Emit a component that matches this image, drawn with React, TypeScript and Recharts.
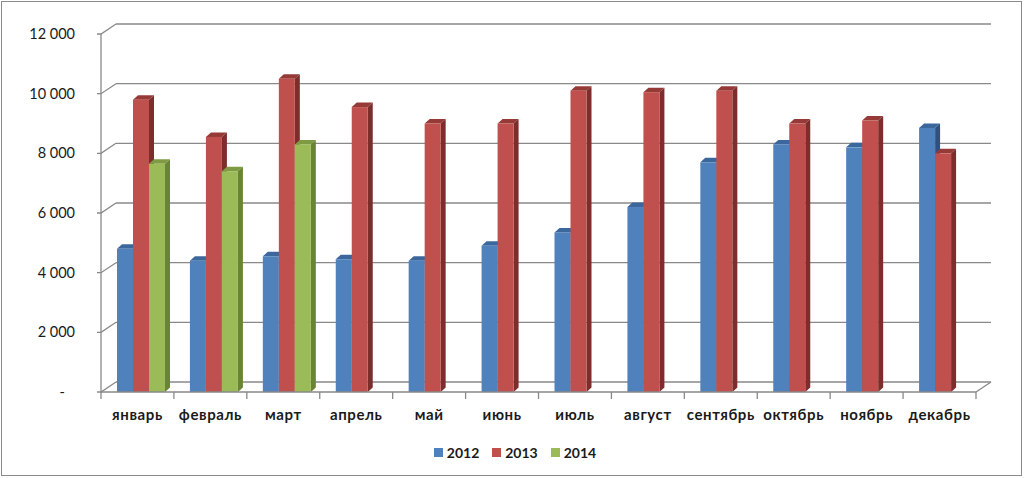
import { BarChart, Bar, XAxis, YAxis, CartesianGrid, Legend } from 'recharts';

// months and values per year
const months = ['январь', 'февраль', 'март', 'апрель', 'май', 'июнь', 'июль', 'август', 'сентябрь', 'октябрь', 'ноябрь', 'декабрь'];
const years = ['2012', '2013', '2014'];
const values2012 = [4800, 4400, 4550, 4450, 4400, 4900, 5350, 6200, 7700, 8300, 8200, 8850];
const values2013 = [9800, 8550, 10500, 9550, 9000, 9000, 10100, 10050, 10100, 9000, 9100, 8000];
const values2014 = [7650, 7400, 8300, null, null, null, null, null, null, null, null, null];
const yTicks = [0, 2000, 4000, 6000, 8000, 10000, 12000];

const W = 1024;
const H = 478;
const MARGIN = { top: 34, right: 48, left: 0, bottom: 10 };
const Y_AXIS_W = 101;
const X_AXIS_H = 52;
const LEGEND_H = 24;
const PLOT_LEFT = MARGIN.left + Y_AXIS_W;
const PLOT_RIGHT = W - MARGIN.right;
const PLOT_BOTTOM = H - MARGIN.bottom - LEGEND_H - X_AXIS_H;
const BAND = (PLOT_RIGHT - PLOT_LEFT) / months.length;

// depth of the back wall and of the bars
const WALL_DX = 15;
const WALL_DY = -10;
const BAR_DX = 5;
const BAR_DY = -4.5;
const BAR_SHIFT = 4;

const GRID = '#898989';
const FONT = "Lato, 'Noto Sans', 'DejaVu Sans', sans-serif";

const COLORS = {
  '2012': { front: '#4F81BD', top: '#3C679C', side: '#2F5180' },
  '2013': { front: '#C0504D', top: '#963A38', side: '#7D2E2C' },
  '2014': { front: '#9BBB59', top: '#7E9B44', side: '#6A8436' },
};

const data = months.map((m, i) => ({
  month: m,
  '2012': values2012[i],
  '2013': values2013[i],
  '2014': values2014[i],
}));

function formatTick(v: number): string {
  if (v === 0) return '-';
  return v.toLocaleString('ru-RU').replace(/\s/g, ' ');
}

function makeShape(year: string) {
  const c = COLORS[year as keyof typeof COLORS];
  return (props: any) => {
    const { x, y, width, height } = props;
    if (!height || height <= 0) return <g />;
    const x0 = x + BAR_SHIFT;
    const x1 = x0 + width;
    const y1 = y + height;
    return (
      <g>
        <polygon
          points={`${x0},${y} ${x0 + BAR_DX},${y + BAR_DY} ${x1 + BAR_DX},${y + BAR_DY} ${x1},${y}`}
          fill={c.top}
        />
        <polygon
          points={`${x1},${y} ${x1 + BAR_DX},${y + BAR_DY} ${x1 + BAR_DX},${y1 + BAR_DY} ${x1},${y1}`}
          fill={c.side}
        />
        <rect x={x0} y={y} width={width} height={height} fill={c.front} />
      </g>
    );
  };
}

// back wall gridlines plus the diagonals from the front axis
function WallLine(props: any) {
  const { x1, y1, x2 } = props;
  const isFloor = Math.abs(y1 - PLOT_BOTTOM) < 1;
  return (
    <g>
      <polyline
        points={`${x1 - 4},${y1} ${x1},${y1} ${x1 + WALL_DX},${y1 + WALL_DY}`}
        fill="none"
        stroke={GRID}
        strokeWidth={1.3}
      />
      <line x1={x1 + WALL_DX} y1={y1 + WALL_DY} x2={x2 + WALL_DX} y2={y1 + WALL_DY} stroke={GRID} strokeWidth={1.3} />
      {isFloor && (
        <line x1={x2} y1={y1} x2={x2 + WALL_DX} y2={y1 + WALL_DY} stroke={GRID} strokeWidth={1.3} />
      )}
    </g>
  );
}

function YTick(props: any) {
  const { x, y, payload } = props;
  const zero = payload.value === 0;
  return (
    <text
      x={zero ? x - 10 : x}
      y={y}
      dy={5}
      textAnchor="end"
      fontFamily={FONT}
      fontSize={14.5}
      fill="#1a1a1a"
    >
      {formatTick(payload.value)}
    </text>
  );
}

function XTick(props: any) {
  const { x, payload, index } = props;
  const left = x - BAND / 2;
  const right = x + BAND / 2;
  return (
    <g>
      <line x1={left} y1={PLOT_BOTTOM} x2={left} y2={PLOT_BOTTOM + 7} stroke={GRID} strokeWidth={1.3} />
      {index === months.length - 1 && (
        <line x1={right} y1={PLOT_BOTTOM} x2={right} y2={PLOT_BOTTOM + 7} stroke={GRID} strokeWidth={1.3} />
      )}
      <text
        x={x}
        y={PLOT_BOTTOM + 28}
        textAnchor="middle"
        fontFamily={FONT}
        fontWeight="bold"
        fontSize={15}
        letterSpacing={0.6}
        fill="#1a1a1a"
      >
        {payload.value}
      </text>
    </g>
  );
}

function LegendContent() {
  return (
    <div style={{ display: 'flex', justifyContent: 'center', gap: 13, paddingLeft: 6, fontFamily: FONT }}>
      {years.map((yr) => (
        <div key={yr} style={{ display: 'flex', alignItems: 'center', gap: 4 }}>
          <span style={{ width: 9, height: 9, background: COLORS[yr as keyof typeof COLORS].front, display: 'inline-block' }} />
          <span style={{ fontSize: 14, fontWeight: 'bold', color: '#1a1a1a' }}>{yr}</span>
        </div>
      ))}
    </div>
  );
}

export default function App() {
  return (
    <div style={{ position: 'absolute', left: 0, top: 0, width: W, height: H, background: '#fff' }}>
      <BarChart
        width={W}
        height={H}
        data={data}
        margin={MARGIN}
        barGap={0}
        barSize={16}
      >
        <CartesianGrid vertical={false} horizontal={(p: any) => <WallLine key={p.key} {...p} />} />
        <XAxis
          dataKey="month"
          height={X_AXIS_H}
          axisLine={{ stroke: GRID, strokeWidth: 1.3 }}
          tickLine={false}
          tick={<XTick />}
          interval={0}
        />
        <YAxis
          width={Y_AXIS_W}
          domain={[0, 12000]}
          ticks={yTicks}
          tickSize={0}
          tickMargin={26}
          axisLine={{ stroke: GRID, strokeWidth: 1.3 }}
          tickLine={false}
          tick={<YTick />}
        />
        <Legend
          verticalAlign="bottom"
          height={LEGEND_H}
          wrapperStyle={{ left: 0, width: W }}
          content={<LegendContent />}
        />
        {years.map((yr) => (
          <Bar key={yr} dataKey={yr} isAnimationActive={false} shape={makeShape(yr)} />
        ))}
      </BarChart>
      <div
        style={{
          position: 'absolute',
          left: 1,
          top: 1,
          width: 1021,
          height: 475,
          border: '1.5px solid #8a8a8a',
          boxSizing: 'border-box',
          pointerEvents: 'none',
        }}
      />
    </div>
  );
}
